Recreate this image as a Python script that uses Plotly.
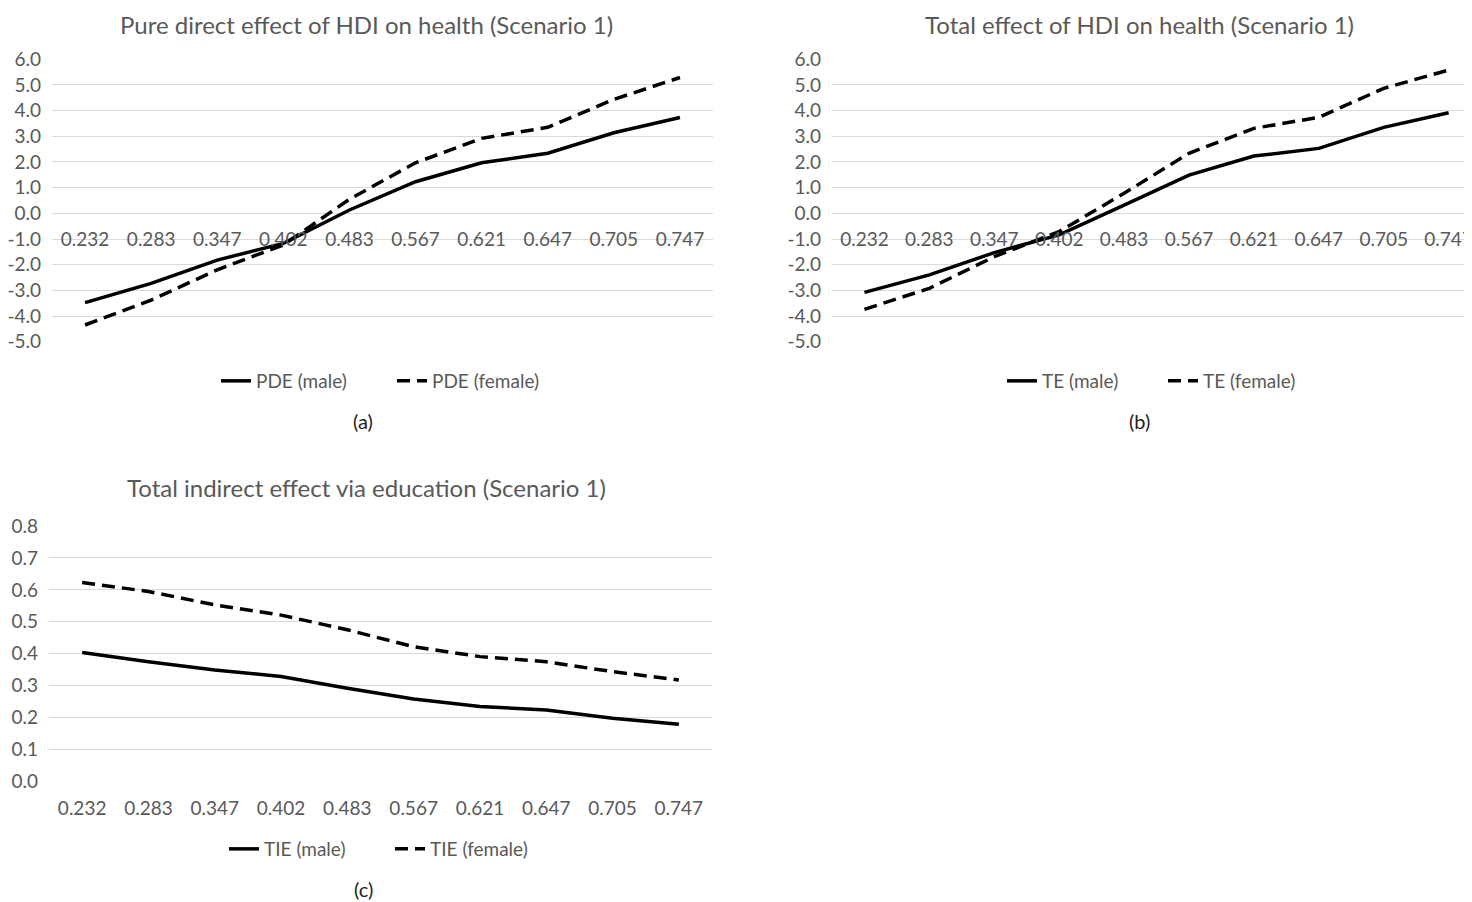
import plotly.graph_objects as go

# page is rendered with an 8px body margin; figure coordinates = page coordinates - 8
OFF = 8
W, H = 1472 - OFF, 902 - OFF

hdi = ["0.232", "0.283", "0.347", "0.402", "0.483", "0.567", "0.621", "0.647", "0.705", "0.747"]
pde_male = [-3.48, -2.73, -1.82, -1.17, 0.13, 1.23, 1.97, 2.34, 3.14, 3.73]
pde_female = [-4.35, -3.38, -2.20, -1.23, 0.55, 1.97, 2.92, 3.35, 4.44, 5.29]
te_male = [-3.08, -2.40, -1.53, -0.84, 0.32, 1.49, 2.23, 2.53, 3.35, 3.92]
te_female = [-3.74, -2.92, -1.69, -0.71, 0.78, 2.34, 3.31, 3.74, 4.87, 5.58]
tie_male = [0.404, 0.375, 0.349, 0.329, 0.292, 0.258, 0.235, 0.224, 0.198, 0.179]
tie_female = [0.623, 0.595, 0.553, 0.521, 0.475, 0.422, 0.391, 0.375, 0.344, 0.318]

effect_ticks = [-5, -4, -3, -2, -1, 0, 1, 2, 3, 4, 5, 6]
tie_ticks = [0.0, 0.1, 0.2, 0.3, 0.4, 0.5, 0.6, 0.7, 0.8]

titles = ["Pure direct effect of HDI on health (Scenario 1)",
          "Total effect of HDI on health (Scenario 1)",
          "Total indirect effect via education (Scenario 1)"]
captions = ["(a)", "(b)", "(c)"]
names = [("PDE (male)", "PDE (female)"), ("TE (male)", "TE (female)"), ("TIE (male)", "TIE (female)")]

FONT = "Lato"
GREY = "#595959"
GRID = "#d9d9d9"


def fx(px):
    return (px - OFF) / W


def fy(py):
    return 1 - (py - OFF) / H


fig = go.Figure()

series = [(pde_male, pde_female), (te_male, te_female), (tie_male, tie_female)]
for i, (m, f) in enumerate(series):
    ax = "" if i == 0 else str(i + 1)
    leg = "legend" if i == 0 else f"legend{i + 1}"
    fig.add_trace(go.Scatter(x=hdi, y=m, mode="lines", name=names[i][0],
                             line=dict(color="black", width=3.5),
                             xaxis="x" + ax, yaxis="y" + ax, legend=leg))
    fig.add_trace(go.Scatter(x=hdi, y=f, mode="lines", name=names[i][1],
                             line=dict(color="black", width=3.5, dash="13px,7px"),
                             xaxis="x" + ax, yaxis="y" + ax, legend=leg))

tickfont = dict(family=FONT, size=19, color=GREY)

# panel geometry in page pixels
pa = dict(x0=52, x1=713, ytop=59.3, ybot=341.7, rng=[-5, 6], tv=effect_ticks, xr=[-0.5, 9.5])
pb = dict(x0=832, x1=1472, ytop=59.3, ybot=341.7, rng=[-5, 6], tv=effect_ticks, xr=[-0.5, 9.36])
pc = dict(x0=49, x1=712, ytop=526, ybot=781.5, rng=[0, 0.8], tv=tie_ticks, xr=[-0.5, 9.5])

layout = {}
for i, p in enumerate([pa, pb, pc]):
    ax = "" if i == 0 else str(i + 1)
    ydom = [fy(p["ybot"]), fy(p["ytop"])]
    yzero = p["ybot"] - (0 - p["rng"][0]) / (p["rng"][1] - p["rng"][0]) * (p["ybot"] - p["ytop"])
    layout["xaxis" + ax] = dict(domain=[fx(p["x0"]), min(1.0, fx(p["x1"]))], type="category",
                                range=p["xr"], anchor="free", position=fy(yzero),
                                showgrid=False, showline=False, zeroline=False, ticks="",
                                automargin=False,
                                tickfont=tickfont, ticklabelstandoff=13, fixedrange=True)
    layout["yaxis" + ax] = dict(domain=ydom, range=p["rng"], tickmode="array",
                                tickvals=p["tv"], ticktext=[f"{v:.1f}" for v in p["tv"]],
                                anchor="x" + ax, showgrid=True, automargin=False,
                                gridcolor=GRID, gridwidth=1.3, zeroline=False, showline=False,
                                ticks="", tickfont=tickfont, ticklabelstandoff=10, fixedrange=True)

title_pos = [366, 1139, 366]
title_top = [8, 8, 471]
legend_left = [226, 1012, 234]
legend_y = [381, 381, 849]
legend_entry = [131, 116, 121]
cap_pos = [(363, 421), (1139, 421), (363, 889)]

annotations = []
for i in range(3):
    annotations.append(dict(text=titles[i], x=fx(title_pos[i]), y=fy(title_top[i]),
                            xref="paper", yref="paper", showarrow=False,
                            xanchor="center", yanchor="top",
                            font=dict(family=FONT, size=24, color=GREY)))
    annotations.append(dict(text=captions[i], x=fx(cap_pos[i][0]), y=fy(cap_pos[i][1]),
                            xref="paper", yref="paper", showarrow=False,
                            xanchor="center", yanchor="middle",
                            font=dict(family=FONT, size=20, color="#222222")))
    key = "legend" if i == 0 else f"legend{i + 1}"
    layout[key] = dict(orientation="h", x=fx(legend_left[i] - 10), y=fy(legend_y[i]),
                       xanchor="left", yanchor="middle", bgcolor="rgba(0,0,0,0)",
                       entrywidth=legend_entry[i], entrywidthmode="pixels",
                       font=dict(family=FONT, size=19, color=GREY), itemclick=False)

fig.update_layout(template="none", width=W, height=H, margin=dict(l=0, r=0, t=0, b=0),
                  paper_bgcolor="white", plot_bgcolor="white", showlegend=True,
                  annotations=annotations, **layout)

fig.write_html("out.html")
